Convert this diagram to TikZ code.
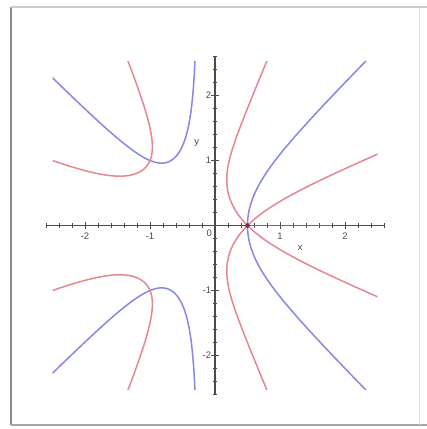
\documentclass[tikz,border=0pt]{standalone}
\usepackage{fontspec}
\setsansfont{Liberation Sans}
\definecolor{curvered}{RGB}{230,135,146}
\definecolor{curveblue}{RGB}{135,135,228}
\definecolor{axisgray}{RGB}{75,75,75}
\definecolor{rootdot}{RGB}{140,40,70}
\begin{document}
\begin{tikzpicture}[x=1pt,y=1pt,
  declare function={
    Bf(\x)=6*\x*\x+3*\x+0.25;
    Cf(\x)=\x*\x*\x*\x+\x*\x*\x+0.25*\x*\x-1.5*\x+0.5;
    Df(\x)=max(Bf(\x)*Bf(\x)-4*Cf(\x),0);
    Up(\x)=(Bf(\x)+sqrt(Df(\x)))/2;
    Lo(\x)=2*Cf(\x)/(Bf(\x)+sqrt(Df(\x)));
    Hb(\x)=(4*\x*\x+5*\x+3)/(4*\x+1);
    Gb(\x)=(\x-0.5)*Hb(\x);
  },
  redc/.style={draw=curvered, line width=1.5pt, line join=round, line cap=round},
  bluec/.style={draw=curveblue, line width=1.5pt, line join=round, line cap=round},
  axisline/.style={draw=axisgray, line width=1.1pt},
  tickmark/.style={draw=axisgray, line width=0.9pt},
  lbl/.style={font=\sffamily\fontsize{9.5}{9.5}\selectfont, text=axisgray, inner sep=0.5pt},
  frameline/.style={draw=black!35, line width=1.2pt}
]
\useasboundingbox (0,0) rectangle (427,429);
\fill[white] (0,0) rectangle (427,429);
% frame
\draw[frameline, draw=black!45, line width=2.4pt] (11,4) -- (11,422);
\draw[frameline, draw=black!20] (11,422) -- (427,422);
\draw[frameline, draw=black!35, line width=1.8pt] (11,4) -- (427,4);
\draw[frameline, draw=black!12, line width=0.8pt] (419,4) -- (419,422);

\begin{scope}[shift={(215,203.5)}, x=65pt, y=65pt]
  % axes
  \coordinate (xl) at (-2.6,0);
  \coordinate (xr) at (2.6,0);
  \coordinate (yb) at (0,-2.6);
  \coordinate (yt) at (0,2.6);
  \draw[axisline] (xl) -- (xr);
  \draw[axisline] (yb) -- (yt);
  \foreach \i in {-13,...,13}{
    \draw[tickmark] (\i*0.2,-0.035) -- (\i*0.2,0.035);
    \draw[tickmark] (-0.035,\i*0.2) -- (0.035,\i*0.2);
  }
  \foreach \i in {-2,-1,1,2}{
    \draw[tickmark] (\i,-0.06) -- (\i,0.06);
    \draw[tickmark] (-0.06,\i) -- (0.06,\i);
  }
  % curves
  \begin{scope}
    \clip (-2.5,-2.52) rectangle (2.5,2.52);
    \foreach \s in {1,-1}{
      % blue, left branches
      \draw[bluec] plot[domain=-2.6:-0.302, samples=160, variable=\u] ({\u},{\s*sqrt(Gb(\u))});
      % red, right of the axis
      \draw[redc] plot[domain=-0.81:0, samples=60, variable=\t] ({0.18071+\t*\t},{\s*sqrt(Up(0.18071+\t*\t))})
        -- plot[domain=0:1.56, samples=110, variable=\t] ({0.18071+\t*\t},{\s*sqrt(Lo(0.18071+\t*\t))});
      % red, left of the axis
      \draw[redc] plot[domain=-0.72:0, samples=60, variable=\t] ({-0.96342-\t*\t},{\s*sqrt(Up(-0.96342-\t*\t))})
        -- plot[domain=0:1.29, samples=100, variable=\t] ({-0.96342-\t*\t},{\s*sqrt(Lo(-0.96342-\t*\t))});
    }
    % blue, right branch (through the double root)
    \draw[bluec] plot[domain=-1.36:1.36, samples=120, variable=\t] ({0.5+\t*\t},{\t*sqrt(Hb(0.5+\t*\t))});
  \end{scope}
  % blue along the real axis
  \coordinate (ba) at (0.5,0);
  \coordinate (bb) at (1.8,0);
  \draw[draw=curveblue!75!black, line width=1.9pt] (ba) -- (bb);
  \fill[rootdot] (ba) circle (0.035);
  % labels
  \node[lbl] (lxm2) at (-2,-0.16) {-2};
  \node[lbl] (lxm1) at (-1,-0.16) {-1};
  \node[lbl] (lx0) at (-0.09,-0.12) {0};
  \node[lbl] (lx1) at (1,-0.16) {1};
  \node[lbl] (lx2) at (2,-0.16) {2};
  \node[lbl, anchor=east] (ly2) at (-0.05,2) {2};
  \node[lbl, anchor=east] (ly1) at (-0.05,1) {1};
  \node[lbl, anchor=east] (lym1) at (-0.05,-1) {-1};
  \node[lbl, anchor=east] (lym2) at (-0.05,-2) {-2};
  \node[lbl] (xlab) at (1.31,-0.35) {x};
  \node[lbl] (ylab) at (-0.28,1.27) {y};
\end{scope}
\end{tikzpicture}
\end{document}
